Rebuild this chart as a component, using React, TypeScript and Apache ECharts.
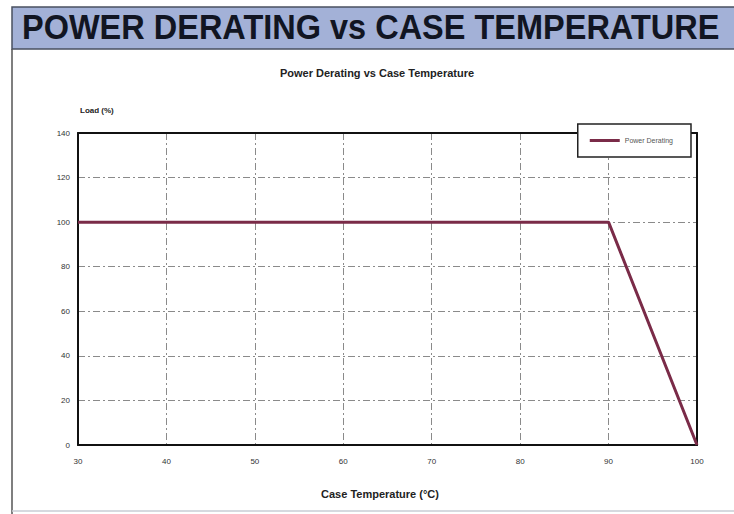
import React, { useEffect, useRef } from "react";
import * as echarts from "echarts";

const seriesName = "Power Derating";
const temperatures = [30, 90, 100];
const loads = [100, 100, 0];
const bannerTitle = "POWER DERATING vs CASE TEMPERATURE";
const chartTitle = "Power Derating vs Case Temperature";
const xAxisTitle = "Case Temperature (°C)";
const yAxisTitle = "Load (%)";

export default function App() {
  const ref = useRef<HTMLDivElement>(null);
  useEffect(() => {
    if (!ref.current) return;
    const chart = echarts.init(ref.current, null, { renderer: "svg" });
    const gridStyle = { color: "#8a8a8a", width: 1, type: [7, 3, 2, 3] as any };
    const font = "'Liberation Sans', Arial, sans-serif";
    chart.setOption({
      animation: false,
      backgroundColor: "#ffffff",
      graphic: [
        {
          type: "rect",
          shape: { x: 12, y: 7, width: 730, height: 42 },
          style: { fill: "#a3b1d7", stroke: "#4a5060", lineWidth: 1.5 },
        },
        {
          type: "text",
          x: 22,
          y: 29,
          scaleY: 1.08,
          originY: 29,
          style: {
            text: bannerTitle,
            font: "bold 32.5px " + font,
            fill: "#111522",
            textVerticalAlign: "middle",
          },
        },
        {
          type: "line",
          shape: { x1: 12, y1: 49, x2: 12, y2: 514 },
          style: { stroke: "#555", lineWidth: 1.5 },
        },
        {
          type: "line",
          shape: { x1: 12, y1: 511, x2: 734, y2: 511 },
          style: { stroke: "#c8ccd4", lineWidth: 1.5 },
        },
        {
          type: "text",
          x: 377,
          y: 73,
          style: {
            text: chartTitle,
            font: "bold 11px " + font,
            fill: "#222",
            textAlign: "center",
            textVerticalAlign: "middle",
          },
        },
        {
          type: "text",
          x: 80,
          y: 110,
          style: {
            text: yAxisTitle,
            font: "bold 8px " + font,
            fill: "#222",
            textVerticalAlign: "middle",
          },
        },
        {
          type: "text",
          x: 380,
          y: 494,
          style: {
            text: xAxisTitle,
            font: "bold 11px " + font,
            fill: "#222",
            textAlign: "center",
            textVerticalAlign: "middle",
          },
        },
      ],
      grid: { left: 78, right: 37, top: 133, bottom: 69 },
      legend: {
        data: [{ name: seriesName, icon: "rect" }],
        right: 43,
        top: 124,
        itemWidth: 30,
        itemHeight: 3,
        itemGap: 2,
        padding: [13, 18, 13, 12],
        backgroundColor: "#ffffff",
        borderColor: "#222",
        borderWidth: 1.5,
        textStyle: { fontSize: 7, color: "#555", fontFamily: font },
        z: 10,
      },
      xAxis: [
        {
          type: "value",
          min: 30,
          max: 100,
          interval: 10,
          axisLine: { show: true, lineStyle: { color: "#111", width: 2 } },
          axisTick: { show: false },
          axisLabel: { fontSize: 8, color: "#333", margin: 12, fontFamily: font },
          splitLine: { show: true, lineStyle: gridStyle },
        },
        {
          type: "value",
          position: "top",
          min: 30,
          max: 100,
          interval: 10,
          axisLine: { show: true, onZero: false, lineStyle: { color: "#111", width: 2 } },
          axisTick: { show: false },
          axisLabel: { show: false },
          splitLine: { show: false },
          z: 5,
        },
      ],
      yAxis: [
        {
          type: "value",
          min: 0,
          max: 140,
          interval: 20,
          axisLine: { show: true, lineStyle: { color: "#111", width: 2 } },
          axisTick: { show: false },
          axisLabel: { fontSize: 8, color: "#333", margin: 8, fontFamily: font },
          splitLine: { show: true, lineStyle: gridStyle },
        },
        {
          type: "value",
          position: "right",
          min: 0,
          max: 140,
          interval: 20,
          axisLine: { show: true, onZero: false, lineStyle: { color: "#111", width: 2 } },
          axisTick: { show: false },
          axisLabel: { show: false },
          splitLine: { show: false },
          z: 5,
        },
      ],
      series: [
        {
          name: seriesName,
          type: "line",
          data: temperatures.map((t, i) => [t, loads[i]]),
          showSymbol: false,
          symbol: "none",
          lineStyle: { color: "#7a2b48", width: 3 },
          itemStyle: { color: "#7a2b48" },
          z: 6,
        },
      ],
    });
    return () => chart.dispose();
  }, []);
  return (
    <div
      ref={ref}
      style={{ width: 734, height: 514, position: "absolute", left: 0, top: 0 }}
    />
  );
}
